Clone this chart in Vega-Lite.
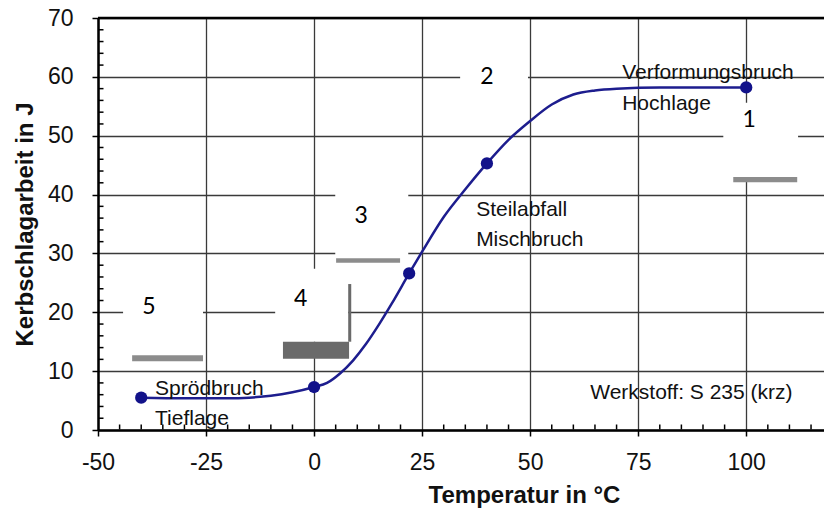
{
  "$schema": "https://vega.github.io/schema/vega-lite/v6.json",
  "width": 726,
  "height": 412,
  "autosize": {"type": "none"},
  "padding": {"left": 98, "top": 18, "right": 0, "bottom": 80},
  "background": "white",
  "config": {"view": {"stroke": null}, "font": "Liberation Sans"},
  "datasets": {
    "curve": [
      {"x": -40, "y": 5.5}, {"x": -30, "y": 5.4}, {"x": -20, "y": 5.4}, {"x": -15, "y": 5.5},
      {"x": -10, "y": 5.8}, {"x": -5, "y": 6.4}, {"x": 0, "y": 7.3}, {"x": 3, "y": 8.0},
      {"x": 6, "y": 9.6}, {"x": 9, "y": 11.8}, {"x": 12, "y": 14.6}, {"x": 15, "y": 17.9},
      {"x": 18, "y": 21.5}, {"x": 22, "y": 26.6}, {"x": 25, "y": 30.3}, {"x": 30, "y": 36.2},
      {"x": 35, "y": 40.9}, {"x": 40, "y": 45.3}, {"x": 45, "y": 49.3}, {"x": 50, "y": 52.5},
      {"x": 55, "y": 55.3}, {"x": 60, "y": 57.0}, {"x": 65, "y": 57.7}, {"x": 70, "y": 58.0},
      {"x": 80, "y": 58.2}, {"x": 90, "y": 58.2}, {"x": 100, "y": 58.2}
    ],
    "points": [
      {"x": -40, "y": 5.5}, {"x": 0, "y": 7.3}, {"x": 22, "y": 26.6}, {"x": 40, "y": 45.3}, {"x": 100, "y": 58.2}
    ],
    "boxes": [
      {"x": -44.2, "x2": -25.7, "y": 25.8, "y2": 12.4},
      {"x": -9.0, "x2": 7.9, "y": 27.4, "y2": 15.0},
      {"x": 4.9, "x2": 21.8, "y": 40.4, "y2": 29.2},
      {"x": 33.8, "x2": 49.5, "y": 64.4, "y2": 52.0},
      {"x": 94.7, "x2": 112.0, "y": 55.6, "y2": 43.0}
    ],
    "bars": [
      {"x": -42.1, "x2": -25.7, "y": 12.7, "y2": 11.7},
      {"x": 5.1, "x2": 19.9, "y": 29.2, "y2": 28.4},
      {"x": 97.0, "x2": 111.8, "y": 43.0, "y2": 42.1}
    ],
    "blocks": [
      {"x": -7.2, "x2": 8.1, "y": 15.0, "y2": 12.1},
      {"x": 7.9, "x2": 8.6, "y": 24.8, "y2": 15.0}
    ],
    "border": [{"x": -50, "x2": 118, "y": 70}],
    "numbers": [
      {"x": -38.2, "y": 20.9, "label": "5"},
      {"x": -3.1, "y": 22.3, "label": "4"},
      {"x": 10.9, "y": 36.4, "label": "3"},
      {"x": 40.0, "y": 59.9, "label": "2"},
      {"x": 100.7, "y": 52.6, "label": "1"}
    ],
    "labels": [
      {"x": 71.3, "y": 60.65, "label": "Verformungsbruch"},
      {"x": 71.3, "y": 55.4, "label": "Hochlage"},
      {"x": 37.5, "y": 37.4, "label": "Steilabfall"},
      {"x": 37.5, "y": 32.3, "label": "Mischbruch"},
      {"x": -36.8, "y": 6.9, "label": "Sprödbruch"},
      {"x": -36.8, "y": 1.9, "label": "Tieflage"},
      {"x": 63.9, "y": 6.3, "label": "Werkstoff: S 235 (krz)"}
    ],
    "yminor": [
      {"x": -50, "y": 2}, {"x": -50, "y": 4}, {"x": -50, "y": 6}, {"x": -50, "y": 8},
      {"x": -50, "y": 12}, {"x": -50, "y": 14}, {"x": -50, "y": 16}, {"x": -50, "y": 18},
      {"x": -50, "y": 22}, {"x": -50, "y": 24}, {"x": -50, "y": 26}, {"x": -50, "y": 28},
      {"x": -50, "y": 32}, {"x": -50, "y": 34}, {"x": -50, "y": 36}, {"x": -50, "y": 38},
      {"x": -50, "y": 42}, {"x": -50, "y": 44}, {"x": -50, "y": 46}, {"x": -50, "y": 48},
      {"x": -50, "y": 52}, {"x": -50, "y": 54}, {"x": -50, "y": 56}, {"x": -50, "y": 58},
      {"x": -50, "y": 62}, {"x": -50, "y": 64}, {"x": -50, "y": 66}, {"x": -50, "y": 68}
    ],
    "xminor": [
      {"x": -45, "y": 0}, {"x": -40, "y": 0}, {"x": -35, "y": 0}, {"x": -30, "y": 0},
      {"x": -20, "y": 0}, {"x": -15, "y": 0}, {"x": -10, "y": 0}, {"x": -5, "y": 0},
      {"x": 5, "y": 0}, {"x": 10, "y": 0}, {"x": 15, "y": 0}, {"x": 20, "y": 0},
      {"x": 30, "y": 0}, {"x": 35, "y": 0}, {"x": 40, "y": 0}, {"x": 45, "y": 0},
      {"x": 55, "y": 0}, {"x": 60, "y": 0}, {"x": 65, "y": 0}, {"x": 70, "y": 0},
      {"x": 80, "y": 0}, {"x": 85, "y": 0}, {"x": 90, "y": 0}, {"x": 95, "y": 0},
      {"x": 105, "y": 0}, {"x": 110, "y": 0}, {"x": 115, "y": 0}
    ]
  },
  "encoding": {
    "x": {
      "field": "x", "type": "quantitative",
      "scale": {"domain": [-50, 118], "nice": false, "zero": false},
      "axis": {
        "title": "Temperatur in °C",
        "values": [-50, -25, 0, 25, 50, 75, 100],
        "labelExpr": "'' + datum.value",
        "grid": true, "gridColor": "#3a3a3a", "gridWidth": 1.3,
        "domainColor": "black", "domainWidth": 2.5,
        "tickColor": "black", "tickWidth": 1.5, "tickSize": 6,
        "labelFont": "Liberation Sans", "labelFontSize": 23, "labelColor": "#111",
        "labelPadding": 15, "labelFlush": false,
        "titleFont": "Liberation Sans", "titleFontSize": 24, "titleFontWeight": "bold", "titleColor": "#111",
        "titleX": 426, "titleY": 65, "titleBaseline": "middle", "titleAlign": "center"
      }
    },
    "y": {
      "field": "y", "type": "quantitative",
      "scale": {"domain": [0, 70], "nice": false},
      "axis": {
        "title": "Kerbschlagarbeit in J",
        "values": [0, 10, 20, 30, 40, 50, 60, 70],
        "grid": true, "gridColor": "#3a3a3a", "gridWidth": 1.3,
        "domainColor": "black", "domainWidth": 2.5,
        "tickColor": "black", "tickWidth": 1.5, "tickSize": 6,
        "labelFont": "Liberation Sans", "labelFontSize": 23, "labelColor": "#111",
        "labelPadding": 19, "labelFlush": false,
        "titleFont": "Liberation Sans", "titleFontSize": 24, "titleFontWeight": "bold", "titleColor": "#111",
        "titleX": -73, "titleY": 206, "titleAngle": 270, "titleBaseline": "middle", "titleAlign": "center"
      }
    }
  },
  "layer": [
    {
      "data": {"name": "boxes"},
      "mark": {"type": "rect", "fill": "white"},
      "encoding": {"x2": {"field": "x2"}, "y2": {"field": "y2"}}
    },
    {
      "data": {"name": "bars"},
      "mark": {"type": "rect", "fill": "#8c8c8c"},
      "encoding": {"x2": {"field": "x2"}, "y2": {"field": "y2"}}
    },
    {
      "data": {"name": "blocks"},
      "mark": {"type": "rect", "fill": "#6a6a6a"},
      "encoding": {"x2": {"field": "x2"}, "y2": {"field": "y2"}}
    },
    {
      "data": {"name": "border"},
      "mark": {"type": "rule", "color": "black", "strokeWidth": 2.5},
      "encoding": {"x2": {"field": "x2"}}
    },
    {
      "data": {"name": "curve"},
      "mark": {"type": "line", "color": "#1d1d8e", "strokeWidth": 2.5, "interpolate": "monotone"},
      "encoding": {}
    },
    {
      "data": {"name": "points"},
      "mark": {"type": "circle", "color": "#12128a", "opacity": 1, "size": 150},
      "encoding": {}
    },
    {
      "data": {"name": "numbers"},
      "mark": {"type": "text", "font": "Lato", "fontSize": 23, "color": "black", "align": "center", "baseline": "middle"},
      "encoding": {"text": {"field": "label"}}
    },
    {
      "data": {"name": "labels"},
      "mark": {"type": "text", "font": "Liberation Sans", "fontSize": 21, "color": "#111", "align": "left", "baseline": "middle"},
      "encoding": {"text": {"field": "label"}}
    },
    {
      "data": {"name": "yminor"},
      "mark": {"type": "tick", "orient": "horizontal", "size": 5, "thickness": 1.5, "color": "black", "xOffset": 3, "opacity": 1},
      "encoding": {}
    },
    {
      "data": {"name": "xminor"},
      "mark": {"type": "tick", "orient": "vertical", "size": 5, "thickness": 1.5, "color": "black", "yOffset": -3, "opacity": 1},
      "encoding": {}
    }
  ]
}
